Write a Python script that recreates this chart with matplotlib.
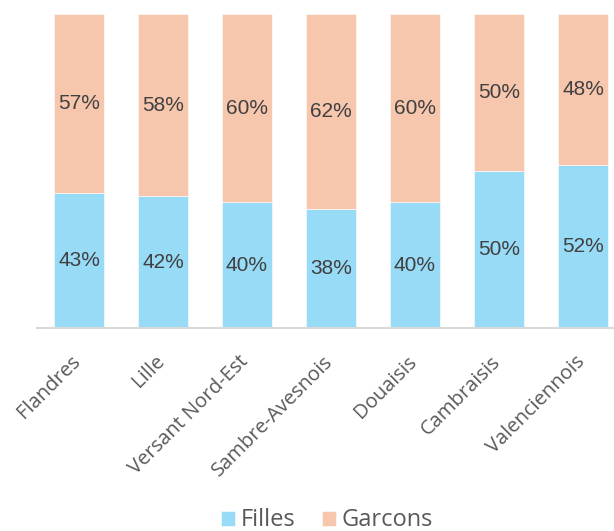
import matplotlib.pyplot as plt
import numpy as np

# donnees
territoires = ["Flandres", "Lille", "Versant Nord-Est", "Sambre-Avesnois",
               "Douaisis", "Cambraisis", "Valenciennois"]
filles = [43, 42, 40, 38, 40, 50, 52]
garcons = [57, 58, 60, 62, 60, 50, 48]

bleu = "#97DBF7"
peche = "#F6C6AD"

fig = plt.figure(figsize=(6.14, 5.31), dpi=100)
# l'axe deborde a droite comme sur l'original (image rognee)
ax = fig.add_axes([37 / 614, 1 - 328 / 531, 588 / 614, 314 / 531])

x = np.arange(len(territoires))
b1 = ax.bar(x, filles, width=0.6, color=bleu, edgecolor="white", linewidth=0.4, label="Filles")
b2 = ax.bar(x, garcons, width=0.6, bottom=filles, color=peche, edgecolor="white", linewidth=0.4, label="Garcons")

for i in range(len(x)):
    ax.text(x[i], filles[i] / 2, f"{filles[i]}%", ha="center", va="center",
            fontsize=15, color="#404040", family="Liberation Sans")
    ax.text(x[i], filles[i] + garcons[i] / 2, f"{garcons[i]}%", ha="center", va="center",
            fontsize=15, color="#404040", family="Liberation Sans")

ax.set_xlim(-0.5, len(x) - 0.5)
ax.set_ylim(0, 100)
ax.set_yticks([])
for s in ["top", "right", "left"]:
    ax.spines[s].set_visible(False)
ax.spines["bottom"].set_color("#D9D9D9")
ax.spines["bottom"].set_linewidth(1.5)

# petit decalage pour que la fin du texte tombe sous le centre de la barre
ax.set_xticks(x - 0.1)
ax.set_xticklabels(territoires, rotation=45, ha="right", rotation_mode="anchor",
                   fontsize=14.5, color="#595959", family="Open Sans")
ax.tick_params(axis="x", length=0, pad=17)

fig.legend(handles=[b1, b2], loc="center", bbox_to_anchor=(327 / 614, 0.02), ncol=2,
           frameon=False, labelcolor="#595959", handlelength=0.6,
           handleheight=0.6, handletextpad=0.25, columnspacing=1.1,
           prop={"family": "Open Sans", "size": 17})

fig.savefig("out.png", dpi=100)
